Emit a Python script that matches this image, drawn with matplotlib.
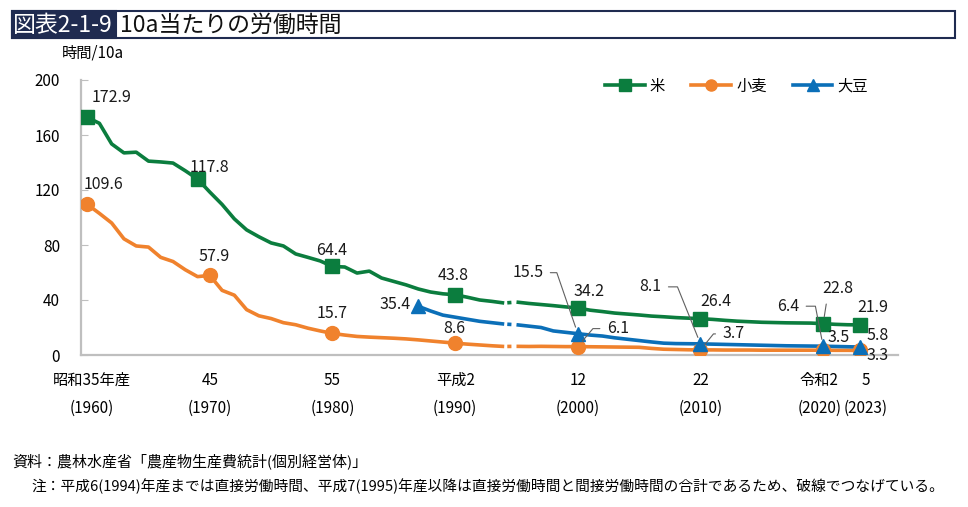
import matplotlib
matplotlib.use('Agg')
import matplotlib.pyplot as plt
from matplotlib.patches import Rectangle
from matplotlib.transforms import ScaledTranslation
import numpy as np

plt.rcParams['font.family'] = ['Noto Sans CJK JP', 'DejaVu Sans']

# --- data (hours per 10a) ---
rice_years = list(range(1960, 2024))
rice = [172.9, 168.5, 153.5, 147.0, 147.5, 141.0, 140.4, 139.6, 134.0, 128.0,
        118.5, 109.5, 99.0, 91.0, 86.0, 81.5, 79.3, 73.5, 71.0, 68.4,
        64.4, 64.0, 59.6, 61.0, 56.0, 53.5, 51.0, 48.0, 45.8, 44.5,
        43.8, 42.0, 40.0, 39.0, 37.8, 38.5, 37.5, 36.7, 35.9, 35.0,
        34.2, 32.6, 31.6, 30.5, 29.8, 29.1, 28.3, 27.8, 27.2, 26.8,
        26.4, 25.9, 25.2, 24.6, 24.2, 23.8, 23.6, 23.4, 23.3, 23.2,
        22.8, 22.3, 22.0, 21.9]
wheat_years = list(range(1960, 2024))
wheat = [109.6, 103.0, 96.0, 84.5, 79.3, 78.5, 71.0, 68.0, 62.0, 57.0,
         57.9, 47.0, 43.5, 33.0, 28.5, 26.5, 23.5, 22.0, 19.5, 17.5,
         15.7, 14.5, 13.5, 13.0, 12.6, 12.2, 11.7, 11.0, 10.2, 9.4,
         8.6, 7.9, 7.3, 6.7, 6.2, 6.3, 6.2, 6.3, 6.2, 6.1,
         6.1, 6.0, 5.9, 5.8, 5.7, 5.6, 4.8, 4.2, 4.0, 3.8,
         3.7, 3.7, 3.6, 3.6, 3.6, 3.5, 3.5, 3.5, 3.5, 3.5,
         3.5, 3.4, 3.4, 3.3]
soy_years = list(range(1987, 2024))
soy = [35.4, 32.0, 29.0, 27.5, 26.0, 24.5, 23.5, 22.5, 22.0, 21.0,
       20.0, 17.5, 16.5, 15.5, 14.5, 13.8, 12.5, 11.5, 10.5, 9.5,
       8.6, 8.3, 8.2, 8.1, 7.9, 7.7, 7.5, 7.3, 7.1, 6.9,
       6.7, 6.6, 6.5, 6.4, 6.2, 6.0, 5.8]

rice_mark_years = [1960, 1969, 1980, 1990, 2000, 2010, 2020, 2023]
rice_labels = ['172.9', '117.8', '64.4', '43.8', '34.2', '26.4', '22.8', '21.9']
wheat_mark_years = [1960, 1970, 1980, 1990, 2000, 2010, 2020, 2023]
wheat_labels = ['109.6', '57.9', '15.7', '8.6', '6.1', '3.7', '3.5', '3.3']
soy_mark_years = [1987, 2000, 2010, 2020, 2023]
soy_labels = ['35.4', '15.5', '8.1', '6.4', '5.8']

tick_years = [1960, 1970, 1980, 1990, 2000, 2010, 2020, 2023]
tick_labels = ['昭和35年産\n(1960)', '45\n(1970)', '55\n(1980)', '平成2\n(1990)',
               '12\n(2000)', '22\n(2010)', '令和2\n(2020)', '5\n(2023)']
break_year = 1994  # direct labour only up to here

GREEN, ORANGE, BLUE = '#0b7d3e', '#f0822d', '#0b6fb8'
NAVY = '#1f2b50'
PX = 0.72  # points per pixel at dpi 100

fig = plt.figure(figsize=(9.68, 5.07), dpi=100)
ax = fig.add_axes([81/968, 1-355/507, (898-81)/968, 275/507])


def draw_series(years, vals, mark_years, color, marker, ms, name):
    years = np.array(years)
    vals = np.array(vals)
    a = years <= break_year
    b = years >= break_year + 1
    ax.plot(years[a], vals[a], color=color, lw=2.6, solid_capstyle='butt', zorder=3)
    ax.plot(years[b], vals[b], color=color, lw=2.6, solid_capstyle='butt', zorder=3)
    if a.any():
        # short gap - dot - gap between 1994 and 1995 (dash lengths scale with lw)
        ax.plot([break_year, break_year + 1], [vals[a][-1], vals[b][0]], color=color,
                lw=2.6, dashes=(0, 0.85, 1.15, 10), dash_capstyle='butt', zorder=3)
    idx = [list(years).index(y) for y in mark_years]
    ax.plot(years[idx], vals[idx], ls='none', marker=marker, ms=ms, color=color, zorder=4)
    # legend proxy
    ax.plot([], [], color=color, lw=2.6, marker=marker, ms=ms*0.8, label=name)
    return years[idx], vals[idx]


rx, ry = draw_series(rice_years, rice, rice_mark_years, GREEN, 's', 10, '米')
wx, wy = draw_series(wheat_years, wheat, wheat_mark_years, ORANGE, 'o', 10, '小麦')
sx, sy = draw_series(soy_years, soy, soy_mark_years, BLUE, '^', 10, '大豆')

# label offsets in pixels (dx right, dy down) and optional leader
rice_off = [(24, -20), (12, -12), (-1, -16), (-2, -19), (11, -16), (15, -17), (15, -35), (13, -17)]
wheat_off = [(16, -20), (4, -19), (0, -20), (-1, -15), (40, -18), (33, -16), (15, -13), (18, 5)]
soy_off = [(-23, -2), (-50, -61), (-50, -57), (-35, -40), (18, -12)]
leaders = {
    ('w', 4): dict(relpos=(0, 0.5), cs='angle,angleA=0,angleB=50,rad=0'),
    ('w', 5): dict(relpos=(0, 0.5), cs='angle,angleA=0,angleB=51,rad=0'),
    ('s', 1): dict(relpos=(1, 0.5), cs='angle,angleA=0,angleB=-71,rad=0'),
    ('s', 2): dict(relpos=(1, 0.5), cs='angle,angleA=0,angleB=-68,rad=0'),
    ('s', 3): dict(relpos=(1, 0.5), cs='angle,angleA=0,angleB=-79,rad=0'),
    ('r', 6): dict(relpos=(0.15, 0), cs='arc3'),
}

for key, xs, ys, labs, offs in [('r', rx, ry, rice_labels, rice_off),
                                ('w', wx, wy, wheat_labels, wheat_off),
                                ('s', sx, sy, soy_labels, soy_off)]:
    for i, (x, y, t, (dx, dy)) in enumerate(zip(xs, ys, labs, offs)):
        kw = {}
        if (key, i) in leaders:
            ld = leaders[(key, i)]
            kw['arrowprops'] = dict(arrowstyle='-', color='#606060', lw=0.8,
                                    connectionstyle=ld['cs'], relpos=ld['relpos'],
                                    shrinkA=3, shrinkB=5)
        ax.annotate(t, xy=(x, y), xytext=(dx*PX, -dy*PX), textcoords='offset points',
                    ha='center', va='center', fontsize=11.5, color='#1a1a1a', zorder=5, **kw)

ax.set_xlim(1959.5, 2026.1)
ax.set_ylim(0, 200)
ax.set_yticks([0, 40, 80, 120, 160, 200])
ax.set_xticks(tick_years)
ax.set_xticklabels(tick_labels, linespacing=1.85)
ax.tick_params(axis='y', direction='in', length=5, color='#bfbfbf', pad=15, labelsize=11)
ax.tick_params(axis='x', length=0, pad=12, labelsize=11)
# the last two labels sit slightly apart in the reference
shifts = {1960: 5, 2020: -4, 2023: 6}
for yr, lab in zip(tick_years, ax.get_xticklabels()):
    if yr in shifts:
        lab.set_transform(lab.get_transform() + ScaledTranslation(shifts[yr]/100, 0, fig.dpi_scale_trans))
for s in ['top', 'right']:
    ax.spines[s].set_visible(False)
for s in ['left', 'bottom']:
    ax.spines[s].set_color('#bfbfbf')
    ax.spines[s].set_linewidth(1.6)

ax.legend(loc='center right', bbox_to_anchor=(882/968, 1-86/507), bbox_transform=fig.transFigure,
          ncol=3, frameon=False, fontsize=11, handlelength=2.6, handletextpad=0.35,
          columnspacing=1.7)

# title block
fig.patches.append(Rectangle((12/968, 1-38/507), (955-12)/968, 27/507, transform=fig.transFigure,
                             fill=False, edgecolor=NAVY, lw=1.5))
fig.patches.append(Rectangle((12/968, 1-38/507), (116-12)/968, 27/507, transform=fig.transFigure,
                             facecolor=NAVY, edgecolor=NAVY, lw=1.5))
fig.text(13/968, 1-25/507, '図表2-1-9', color='white', fontsize=16.5, va='center')
fig.text(120/968, 1-25/507, '10a当たりの労働時間', color='#111111', fontsize=16.5, va='center')

fig.text(62/968, 1-53/507, '時間/10a', fontsize=11, va='center')

fig.text(12/968, 1-461/507, '資料：農林水産省「農産物生産費統計(個別経営体)」', fontsize=10.8, va='center')
fig.text(31/968, 1-486/507, '注：平成6(1994)年産までは直接労働時間、平成7(1995)年産以降は直接労働時間と間接労働時間の合計であるため、破線でつなげている。',
         fontsize=10.6, va='center')

fig.savefig('out.png', dpi=100)
